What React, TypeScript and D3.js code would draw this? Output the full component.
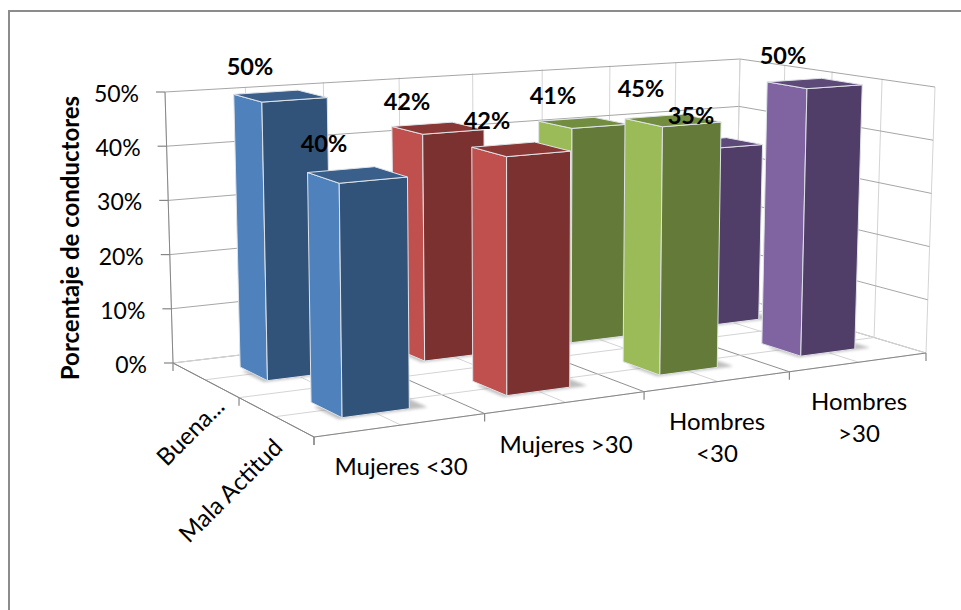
import React from "react";
import * as d3 from "d3";

// Survey results by group and driver attitude
const groups = ["Mujeres <30", "Mujeres >30", "Hombres <30", "Hombres >30"];
const attitudes = ["Buena Actitud", "Mala Actitud"];
const buenaActitud = [50, 42, 41, 35];
const malaActitud = [40, 42, 45, 50];
const valueTicks = [0, 10, 20, 30, 40, 50];

const faceColors = [
  { side: "#4f81bd", front: "#325379", top: "#3a5f8b" },
  { side: "#c0504d", front: "#7b3130", top: "#8a3836" },
  { side: "#9bbb59", front: "#647a38", top: "#728c40" },
  { side: "#8064a2", front: "#513e68", top: "#5e4a78" },
];

type Pt = [number, number];

// Maps the unit square onto a quad: (0,0) -> a, (1,0) -> b, (1,1) -> c, (0,1) -> d
function quadMap(a: Pt, b: Pt, c: Pt, d: Pt) {
  const dx1 = b[0] - c[0], dx2 = d[0] - c[0], sx = a[0] - b[0] + c[0] - d[0];
  const dy1 = b[1] - c[1], dy2 = d[1] - c[1], sy = a[1] - b[1] + c[1] - d[1];
  const det = dx1 * dy2 - dx2 * dy1;
  const g = (sx * dy2 - dx2 * sy) / det;
  const h = (dx1 * sy - sx * dy1) / det;
  const A = b[0] - a[0] + g * b[0], B = d[0] - a[0] + h * d[0];
  const D = b[1] - a[1] + g * b[1], E = d[1] - a[1] + h * d[1];
  return (u: number, v: number): Pt => {
    const w = g * u + h * v + 1;
    return [(A * u + B * v + a[0]) / w, (D * u + E * v + a[1]) / w];
  };
}

// Floor plane of the box; u runs along the groups, v from back to front
const floorPlane = quadMap([173, 363], [735, 296], [926, 353], [314, 437]);
// Screen vector of the full value height at each floor corner
const riseBack: [Pt, Pt] = [[-8, -271], [5, -237]];
const riseFront: [Pt, Pt] = [[-4, -300], [9, -266]];

// The group axis bends slightly so the middle groups sit where the perspective puts them
const xScale = d3.scaleLinear().domain([0, groups.length / 2, groups.length]).range([0, 0.507, 1]);
const zScale = d3.scaleLinear().domain([0, attitudes.length]).range([0, 1]);
const yScale = d3.scaleLinear().domain([0, 50]).range([0, 1]);

function project(g: number, a: number, value: number): Pt {
  const u = xScale(g), v = zScale(a), t = yScale(value);
  const p = floorPlane(u, v);
  const rise = (i: number) => {
    const back = riseBack[0][i] + (riseBack[1][i] - riseBack[0][i]) * u;
    const front = riseFront[0][i] + (riseFront[1][i] - riseFront[0][i]) * u;
    return back + (front - back) * v;
  };
  return [p[0] + rise(0) * t, p[1] + rise(1) * t];
}

const pathOf = (pts: Pt[]) => d3.line()(pts as [number, number][]) + "Z";
const seg = (a: Pt, b: Pt) => d3.line()([a, b] as [number, number][]) as string;

const barInset = 0.3;
const depthInset = 0.3;

function Bar({ g, a, value }: { g: number; a: number; value: number }) {
  const x0 = g + barInset, x1 = g + 1 - barInset;
  const z0 = a + depthInset, z1 = a + 1 - depthInset;
  const c = faceColors[g];
  const stroke = "#dfe3e8";
  const side = [project(x0, z0, 0), project(x0, z1, 0), project(x0, z1, value), project(x0, z0, value)];
  const front = [project(x0, z1, 0), project(x1, z1, 0), project(x1, z1, value), project(x0, z1, value)];
  const top = [project(x0, z0, value), project(x1, z0, value), project(x1, z1, value), project(x0, z1, value)];
  const shadow = [project(x0 - 0.03, z1 + 0.02, 0), project(x1 + 0.1, z1 + 0.02, 0), project(x1 + 0.1, z0 + 0.1, 0), project(x0 - 0.03, z0 + 0.1, 0)];
  return (
    <g>
      <path d={pathOf(shadow)} fill="#8a8a8a" opacity={0.55} filter="url(#soft)" />
      <path d={pathOf(side)} fill={c.side} stroke={stroke} strokeWidth={1} strokeLinejoin="round" />
      <path d={pathOf(front)} fill={c.front} stroke={stroke} strokeWidth={1} strokeLinejoin="round" />
      <path d={pathOf(top)} fill={c.top} stroke={stroke} strokeWidth={1} strokeLinejoin="round" />
    </g>
  );
}

const textFont = "Lato, 'Noto Sans', sans-serif";
const gridDark = "#a6a6a6";
const gridLight = "#d4d4d4";
const axisColor = "#868686";

// Data label anchors, keyed by attitude row then group
const labelSpots: Pt[][] = [
  [[250, 67], [407, 102], [553, 96], [691, 116]],
  [[324, 144], [487, 121], [641, 89], [783, 56]],
];

const multiLine: string[][] = [["Mujeres <30"], ["Mujeres >30"], ["Hombres", "<30"], ["Hombres", ">30"]];
const groupLabelSpots: Pt[] = [[401, 467], [566, 445], [717, 422], [859, 402]];

export default function App() {
  const rows = [buenaActitud, malaActitud];
  const halfSteps = d3.range(0, groups.length + 0.01, 0.5);
  const depthSteps = d3.range(0, attitudes.length + 0.01, 0.5);
  return (
    <svg width={961} height={610} style={{ position: "absolute", left: 0, top: 0, background: "#fff" }}>
      <defs>
        <filter id="soft" x="-20%" y="-50%" width="140%" height="200%">
          <feGaussianBlur stdDeviation={1.6} />
        </filter>
      </defs>
      {/* chart frame; only its top and left edges fall inside the page */}
      <path d="M9,610V11H961" fill="none" stroke="#8c8c8c" strokeWidth={2} />

      {/* back wall */}
      {halfSteps.map((s) => (
        <path key={"bv" + s} d={seg(project(s, 0, 0), project(s, 0, 50))} stroke={gridLight} fill="none" />
      ))}
      {valueTicks.map((t) => (
        <path key={"bh" + t} d={seg(project(0, 0, t), project(groups.length, 0, t))} stroke={gridDark} fill="none" />
      ))}
      {/* side wall */}
      {depthSteps.map((s) => (
        <path key={"sv" + s} d={seg(project(groups.length, s, 0), project(groups.length, s, 50))} stroke={gridLight} fill="none" />
      ))}
      {valueTicks.map((t) => (
        <path key={"sh" + t} d={seg(project(groups.length, 0, t), project(groups.length, attitudes.length, t))} stroke={gridDark} fill="none" />
      ))}
      {/* floor */}
      {halfSteps.map((s) => (
        <path key={"fc" + s} d={seg(project(s, 0, 0), project(s, attitudes.length, 0))} stroke={Number.isInteger(s) && s < groups.length ? "#8f8f8f" : gridLight} fill="none" />
      ))}
      {depthSteps.map((s) => (
        <path key={"fd" + s} d={seg(project(0, s, 0), project(groups.length, s, 0))} stroke={gridLight} fill="none" />
      ))}
      {/* axes */}
      <path d={seg(project(0, 0, 0), project(0, 0, 50))} stroke={axisColor} fill="none" />
      <path d={seg(project(0, 0, 0), project(0, attitudes.length, 0))} stroke={axisColor} fill="none" />
      <path d={seg(project(0, attitudes.length, 0), project(groups.length, attitudes.length, 0))} stroke={axisColor} fill="none" />
      {valueTicks.map((t) => {
        const p = project(0, 0, t);
        return <path key={"yt" + t} d={seg([p[0] - 9, p[1]], p)} stroke={axisColor} strokeWidth={1.2} fill="none" />;
      })}
      {d3.range(0, groups.length + 1).map((s) => {
        const p = project(s, attitudes.length, 0);
        return <path key={"xt" + s} d={seg(p, [p[0], p[1] + 8])} stroke={axisColor} strokeWidth={1.2} fill="none" />;
      })}
      {d3.range(0, attitudes.length + 1).map((s) => {
        const p = project(0, s, 0);
        return <path key={"zt" + s} d={seg(p, [p[0], p[1] + 8])} stroke={axisColor} strokeWidth={1.2} fill="none" />;
      })}

      {/* bars: back row first, each row right to left */}
      {rows.map((row, a) =>
        d3.range(row.length - 1, -1, -1).map((g) => <Bar key={a + "-" + g} g={g} a={a} value={row[g]} />)
      )}

      {/* value axis labels */}
      {valueTicks.map((t) => {
        const p = project(0, 0, t);
        return (
          <text key={"yl" + t} x={p[0] - 26} y={p[1] + 10} textAnchor="end" fontFamily={textFont} fontSize={23} fill="#000">
            {t}%
          </text>
        );
      })}
      <text
        transform="translate(79,238) rotate(-90)"
        textAnchor="middle"
        fontFamily={textFont}
        fontWeight={700}
        fontSize={24}
        fill="#000"
      >
        Porcentaje de conductores
      </text>

      {/* group labels */}
      {multiLine.map((lines, i) => (
        <text key={"g" + i} x={groupLabelSpots[i][0]} y={groupLabelSpots[i][1]} textAnchor="middle" fontFamily={textFont} fontSize={24} fill="#000">
          {lines.map((l, k) => (
            <tspan key={k} x={groupLabelSpots[i][0]} dy={k === 0 ? 8 : 32}>
              {l}
            </tspan>
          ))}
        </text>
      ))}

      {/* attitude labels */}
      <text transform="translate(226,408) rotate(-45)" textAnchor="end" fontFamily={textFont} fontSize={24} fill="#000">
        Buena...
      </text>
      <text transform="translate(284,449) rotate(-45)" textAnchor="end" fontFamily={textFont} fontSize={24} fill="#000">
        {attitudes[1]}
      </text>

      {/* data labels */}
      {rows.map((row, a) =>
        row.map((v, g) => (
          <text key={"d" + a + g} x={labelSpots[a][g][0]} y={labelSpots[a][g][1] + 8} textAnchor="middle" fontFamily={textFont} fontWeight={700} fontSize={23.5} fill="#000">
            {v}%
          </text>
        ))
      )}
    </svg>
  );
}
